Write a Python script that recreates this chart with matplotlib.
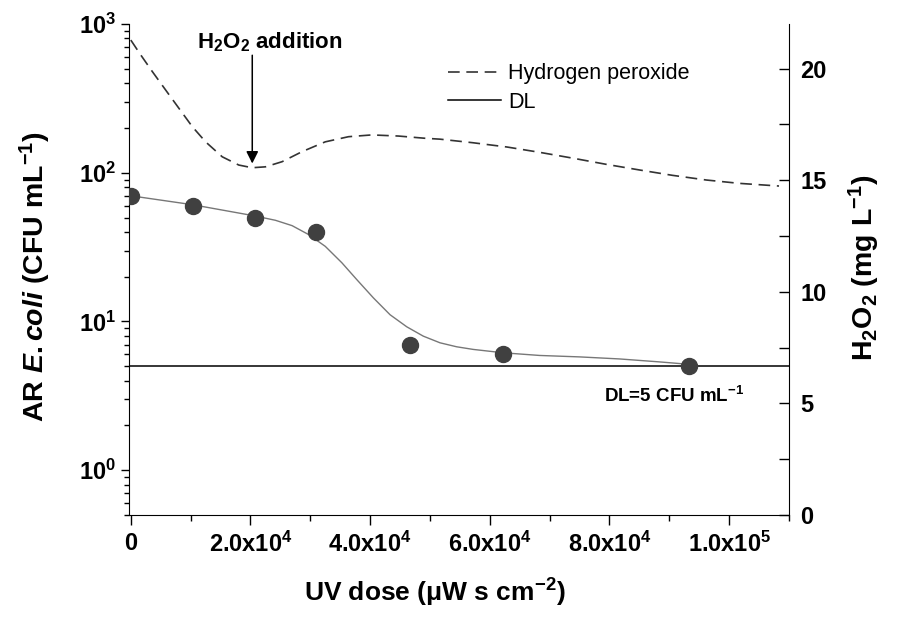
import matplotlib
matplotlib.use('Agg')
import matplotlib.pyplot as plt
from matplotlib.ticker import FixedLocator, LogLocator, MultipleLocator, NullFormatter

plt.rcParams['font.family'] = ['Liberation Sans', 'DejaVu Sans']
plt.rcParams['mathtext.fontset'] = 'custom'
plt.rcParams['mathtext.rm'] = 'Liberation Sans:bold'
plt.rcParams['mathtext.it'] = 'Liberation Sans:italic:bold'
plt.rcParams['mathtext.bf'] = 'Liberation Sans:bold'

# measured AR E. coli counts (CFU/mL) vs UV dose
dose = [0, 1.04e4, 2.07e4, 3.10e4, 4.67e4, 6.22e4, 9.33e4]
ecoli = [70, 60, 50, 40, 7, 6, 5]

# fitted curve
fit_dose = [0, 10280, 20550, 24170, 26950, 29720, 32500, 35280, 37780, 40550,
            43330, 46120, 48880, 51670, 54450, 57220, 62220, 68330, 75000,
            81670, 88330, 93330]
fit_ecoli = [70, 61.0, 51.4, 47.9, 44.1, 38.4, 32.0, 24.8, 19.1, 14.4,
             11.1, 9.21, 7.97, 7.19, 6.76, 6.49, 6.16, 5.91, 5.78,
             5.60, 5.35, 5.15]

# hydrogen peroxide (mg/L), right axis
h2o2_dose = [0, 1670, 3620, 5830, 8050, 10280, 12500, 15280, 18050, 20280,
             22500, 25280, 28620, 32500, 36380, 40280, 44720, 49170, 51670,
             57170, 62830, 68330, 73830, 79500, 85000, 90500, 96170, 101670,
             108330]
h2o2 = [21.28, 20.61, 19.86, 19.04, 18.22, 17.40, 16.72, 16.05, 15.68, 15.56,
        15.60, 15.83, 16.28, 16.72, 16.95, 17.03, 16.98, 16.88, 16.84,
        16.68, 16.49, 16.25, 15.99, 15.71, 15.46, 15.22, 15.01, 14.86,
        14.74]

DL = 5
xticks = [0, 2e4, 4e4, 6e4, 8e4, 1e5]
xticklabels = ['0', '2.0x10$^4$', '4.0x10$^4$', '6.0x10$^4$', '8.0x10$^4$', '1.0x10$^5$']

fig = plt.figure(figsize=(9.01, 6.22), dpi=100)
ax = fig.add_axes([129/901, 1-515/622, 660/901, 491/622])
ax2 = ax.twinx()

ax.set_yscale('log')
ax.set_xlim(-300, 1.1e5)
ax.set_ylim(0.5, 1000)
ax2.set_ylim(0, 22)

ax.plot(fit_dose, fit_ecoli, color='#777777', lw=1.0, zorder=2)
ax.plot(dose, ecoli, 'o', color='#404040', ms=11.5, zorder=3)
dl_line = ax.axhline(DL, color='black', lw=1.1, zorder=2)

h2_line, = ax2.plot(h2o2_dose, h2o2, color='#333333', lw=1.2, dashes=(7, 4))

# arrow marking the H2O2 addition
ax2.annotate('', xy=(20300, 15.75), xytext=(20300, 20.6),
             arrowprops=dict(arrowstyle='-|>', color='black', lw=1.1,
                             mutation_scale=18, shrinkA=0, shrinkB=0))
ax2.text(23200, 21.2, 'H$_2$O$_2$ addition', ha='center', va='center',
         fontsize=16, fontweight='bold')
ax.text(7.9e4, 3.15, 'DL=5 CFU mL$^{-1}$', ha='left', va='center',
        fontsize=13.5, fontweight='bold')

leg = ax2.legend([h2_line, dl_line], ['Hydrogen peroxide', 'DL'],
                 loc='upper left', bbox_to_anchor=(0.47, 0.938), frameon=False,
                 fontsize=15.5, handlelength=2.45, handletextpad=0.35,
                 labelspacing=0.35, borderaxespad=0)

# spines / ticks
for a in (ax, ax2):
    a.spines['top'].set_visible(False)
ax.spines['right'].set_visible(False)
ax2.spines['left'].set_visible(False)
ax2.spines['bottom'].set_visible(False)

ax.xaxis.set_major_locator(FixedLocator(xticks))
ax.set_xticklabels(xticklabels)
ax.xaxis.set_minor_locator(MultipleLocator(1e4))
ax.yaxis.set_major_locator(LogLocator(base=10, numticks=10))
ax.yaxis.set_minor_locator(LogLocator(base=10, subs=range(2, 10), numticks=20))
ax.yaxis.set_minor_formatter(NullFormatter())
ax.tick_params(axis='x', which='major', direction='out', length=7, width=1, labelsize=17, pad=5)
ax.tick_params(axis='x', which='minor', direction='out', length=4, width=1)
ax.tick_params(axis='y', which='major', direction='out', length=6, width=1, labelsize=17, pad=3)
ax.tick_params(axis='y', which='minor', direction='out', length=3.5, width=1)

ax2.yaxis.set_major_locator(MultipleLocator(5))
ax2.yaxis.set_minor_locator(MultipleLocator(2.5))
ax2.tick_params(axis='y', which='both', direction='in', length=7, width=1,
                labelsize=17, pad=8)
for lbl in ax.get_xticklabels() + ax.get_yticklabels() + ax2.get_yticklabels():
    lbl.set_fontweight('bold')

ax.set_xlabel('UV dose (μW s cm$^{-2}$)', fontsize=19, fontweight='bold')
ax.xaxis.set_label_coords(0.464, -0.125)
ax.set_ylabel('AR $\\it{E. coli}$ (CFU mL$^{-1}$)', fontsize=20.5, fontweight='bold')
ax.yaxis.set_label_coords(-0.115, 0.485)
ax2.set_ylabel('H$_2$O$_2$ (mg L$^{-1}$)', fontsize=20.5, fontweight='bold')
ax2.yaxis.set_label_coords(1.088, 0.503)

fig.savefig('out.png', dpi=100)
